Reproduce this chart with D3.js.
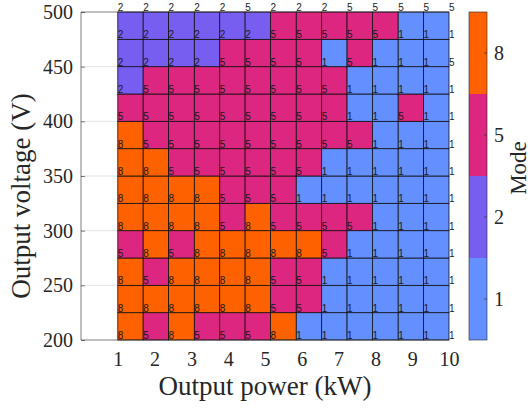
<!DOCTYPE html>
<html>
<head>
<meta charset="utf-8">
<script src="https://cdn.jsdelivr.net/npm/d3@7"></script>
<style>
  body { margin: 0; background: #fff; }
  svg { display: block; }
  .serif { font-family: "Liberation Serif", "Times New Roman", serif; }
</style>
</head>
<body>
<div id="chart"></div>
<script>
// grid points of the pcolor-style map
var power = [1, 1.69, 2.38, 3.08, 3.77, 4.46, 5.15, 5.85, 6.54, 7.23, 7.92, 8.62, 9.31, 10]
var voltage = [200, 225, 250, 275, 300, 325, 350, 375, 400, 425, 450, 475, 500]

// mode at each grid point, one row per voltage (200 first)
var mode200 = [8, 5, 8, 5, 5, 5, 8, 1, 1, 1, 1, 1, 1, 1]
var mode225 = [8, 8, 8, 8, 8, 8, 5, 5, 1, 1, 1, 1, 1, 1]
var mode250 = [8, 5, 8, 8, 8, 8, 5, 5, 1, 1, 1, 1, 1, 1]
var mode275 = [5, 8, 5, 8, 8, 8, 8, 8, 5, 1, 1, 1, 1, 1]
var mode300 = [8, 8, 8, 8, 5, 8, 5, 5, 5, 5, 1, 1, 1, 1]
var mode325 = [8, 8, 8, 8, 5, 5, 5, 1, 1, 1, 1, 1, 1, 1]
var mode350 = [8, 8, 5, 5, 5, 5, 5, 5, 1, 1, 1, 1, 1, 1]
var mode375 = [8, 5, 5, 5, 5, 5, 5, 5, 5, 5, 1, 1, 1, 1]
var mode400 = [5, 5, 5, 5, 5, 5, 5, 5, 5, 1, 1, 5, 1, 1]
var mode425 = [2, 5, 5, 5, 5, 5, 5, 5, 5, 1, 1, 1, 1, 1]
var mode450 = [2, 2, 2, 2, 5, 5, 5, 5, 1, 5, 1, 1, 1, 5]
var mode475 = [2, 2, 2, 2, 2, 2, 5, 5, 5, 5, 5, 1, 1, 1]
var mode500 = [2, 2, 2, 2, 2, 5, 2, 2, 2, 5, 5, 5, 5, 5]
var modes = [mode200, mode225, mode250, mode275, mode300, mode325, mode350,
             mode375, mode400, mode425, mode450, mode475, mode500]

var modeLevels = [1, 2, 5, 8]
var modeColors = ["#648fff", "#785ef0", "#dc267f", "#fe6100"]
var xTicks = [1, 2, 3, 4, 5, 6, 7, 8, 9, 10]
var yTicks = [200, 250, 300, 350, 400, 450, 500]

var width = 530
var height = 408
var axisGray = "#262626"

var svg = d3.select("#chart").append("svg")
  .attr("width", width)
  .attr("height", height)

var x = d3.scaleLinear().domain([0, 10]).range([81, 449])
var y = d3.scaleLinear().domain([200, 500]).range([340, 12])
var color = d3.scaleOrdinal().domain(modeLevels).range(modeColors)

// grid lines behind the cells
svg.append("g")
  .selectAll("line")
  .data(yTicks.slice(1, -1))
  .enter()
  .append("line")
  .attr("x1", x(0)).attr("x2", x(10))
  .attr("y1", function(d) { return y(d) }).attr("y2", function(d) { return y(d) })
  .attr("stroke", "#e3e3e3")
  .attr("stroke-width", 1)

// cells: each one takes the value of its lower-left grid point
var cells = []
for (var j = 0; j < voltage.length - 1; j++) {
  for (var i = 0; i < power.length - 1; i++) {
    cells.push({ x0: power[i], x1: power[i + 1], y0: voltage[j], y1: voltage[j + 1], v: modes[j][i] })
  }
}

svg.append("g")
  .selectAll("rect")
  .data(cells)
  .enter()
  .append("rect")
  .attr("x", function(d) { return x(d.x0) })
  .attr("y", function(d) { return y(d.y1) })
  .attr("width", function(d) { return x(d.x1) - x(d.x0) })
  .attr("height", function(d) { return y(d.y0) - y(d.y1) })
  .attr("fill", function(d) { return color(d.v) })
  .attr("stroke", "#111")
  .attr("stroke-width", 0.8)

// value labels at every grid point
var points = []
voltage.forEach(function(v, j) {
  power.forEach(function(p, i) {
    points.push({ p: p, v: v, m: modes[j][i] })
  })
})

svg.append("g")
  .selectAll("text")
  .data(points)
  .enter()
  .append("text")
  .attr("x", function(d) { return x(d.p) })
  .attr("y", function(d) { return y(d.v) - 1 })
  .style("font-family", "'Liberation Sans', Arial, sans-serif")
  .style("font-size", "10px")
  .attr("fill", "#1a1a1a")
  .text(function(d) { return d.m })

// axes box
var box = svg.append("g").attr("fill", "none").attr("stroke", axisGray).attr("stroke-width", 0.6)
box.append("line").attr("x1", x(0)).attr("x2", x(0)).attr("y1", y(200)).attr("y2", y(500))
box.append("line").attr("x1", x(0)).attr("x2", x(10)).attr("y1", y(200)).attr("y2", y(200))
box.append("line").attr("x1", x(0)).attr("x2", x(10)).attr("y1", y(500)).attr("y2", y(500))

var yAxis = svg.append("g")
  .attr("transform", "translate(" + x(0) + ",0)")
  .call(d3.axisLeft(y).tickValues(yTicks).tickSize(-4).tickPadding(8))
yAxis.select(".domain").remove()
yAxis.selectAll("line").attr("stroke", axisGray).attr("stroke-width", 0.6)
yAxis.selectAll("text")
  .attr("class", "serif")
  .style("font-size", "20px")
  .attr("fill", axisGray)

var xAxis = svg.append("g")
  .attr("transform", "translate(0," + y(200) + ")")
  .call(d3.axisBottom(x).tickValues(xTicks).tickSize(0).tickPadding(12))
xAxis.select(".domain").remove()
xAxis.selectAll("text")
  .attr("class", "serif")
  .style("font-size", "20px")
  .attr("fill", axisGray)

svg.append("text")
  .attr("class", "serif")
  .attr("x", (x(0) + x(10)) / 2)
  .attr("y", 395)
  .attr("text-anchor", "middle")
  .style("font-size", "27px")
  .attr("fill", axisGray)
  .text("Output power (kW)")

svg.append("text")
  .attr("class", "serif")
  .attr("transform", "translate(30,196) rotate(-90)")
  .attr("text-anchor", "middle")
  .style("font-size", "27px")
  .attr("fill", axisGray)
  .text("Output voltage (V)")

// discrete colorbar
var cbX = 469
var cbW = 18
var cb = d3.scaleBand().domain(modeLevels).range([340, 12])

var bar = svg.append("g")
bar.selectAll("rect")
  .data(modeLevels)
  .enter()
  .append("rect")
  .attr("x", cbX)
  .attr("y", function(d) { return cb(d) })
  .attr("width", cbW)
  .attr("height", cb.bandwidth())
  .attr("fill", function(d) { return color(d) })

bar.append("rect")
  .attr("x", cbX).attr("y", 12)
  .attr("width", cbW).attr("height", 328)
  .attr("fill", "none")
  .attr("stroke", axisGray)
  .attr("stroke-width", 0.6)

bar.selectAll(".tick")
  .data(modeLevels)
  .enter()
  .append("line")
  .attr("x1", cbX + cbW - 3).attr("x2", cbX + cbW)
  .attr("y1", function(d) { return cb(d) + cb.bandwidth() / 2 })
  .attr("y2", function(d) { return cb(d) + cb.bandwidth() / 2 })
  .attr("stroke", axisGray)
  .attr("stroke-width", 0.6)

bar.selectAll(".lab")
  .data(modeLevels)
  .enter()
  .append("text")
  .attr("class", "serif")
  .attr("x", cbX + cbW + 7)
  .attr("y", function(d) { return cb(d) + cb.bandwidth() / 2 + 7 })
  .style("font-size", "20px")
  .attr("fill", axisGray)
  .text(function(d) { return d })

svg.append("text")
  .attr("class", "serif")
  .attr("transform", "translate(526,168) rotate(-90)")
  .attr("text-anchor", "middle")
  .style("font-size", "23px")
  .attr("fill", axisGray)
  .text("Mode")
</script>
</body>
</html>
